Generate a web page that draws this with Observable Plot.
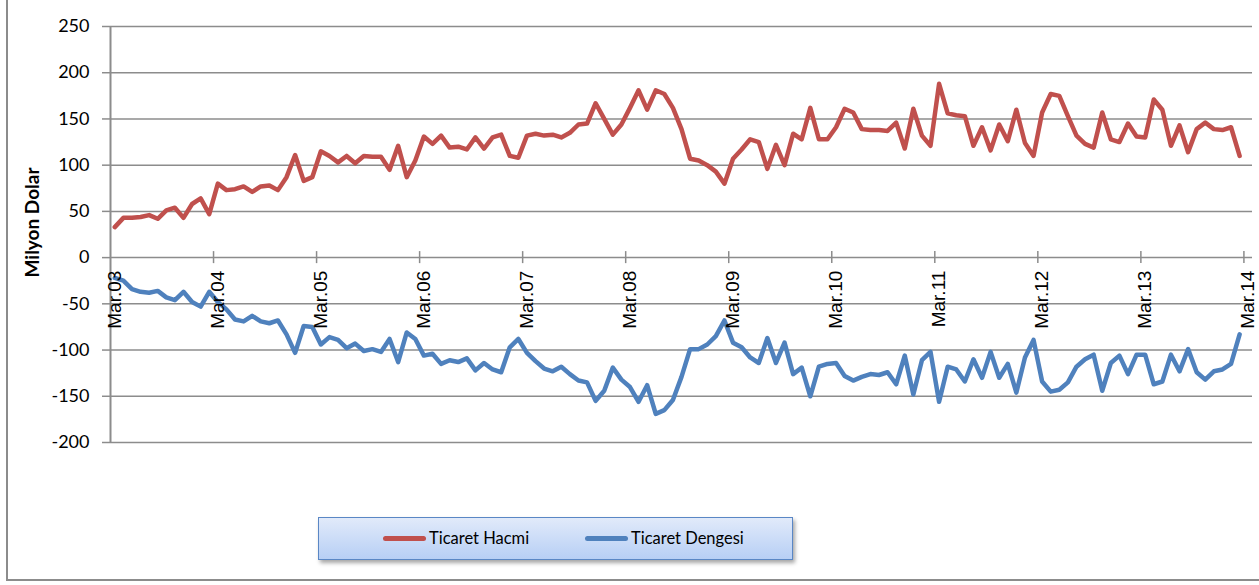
<!DOCTYPE html>
<html><head><meta charset="utf-8">
<script src="https://cdn.jsdelivr.net/npm/d3@7"></script>
<script src="https://cdn.jsdelivr.net/npm/@observablehq/plot@0.6"></script>
<style>
body{margin:0;background:#fff;}
#wrap{position:relative;width:1259px;height:585px;overflow:hidden;background:#fff;}
#chart{position:absolute;left:0;top:0;}
#frame{position:absolute;left:6px;top:-3px;width:1262px;height:584px;border-left:2px solid #8c8c8c;border-bottom:2px solid #8c8c8c;box-sizing:border-box;pointer-events:none;}
#legend{position:absolute;left:318px;top:517px;width:475px;height:43px;box-sizing:border-box;border:1.5px solid #5a87c5;background:linear-gradient(#e1eafa,#b7cff5);box-shadow:2px 3px 4px rgba(0,0,0,0.35);font-family:Lato,"Liberation Sans",sans-serif;font-size:16.5px;color:#000;}
#legend .sw{position:absolute;top:18px;width:43px;height:5px;border-radius:3px;}
#legend .lt{position:absolute;top:10px;line-height:20px;white-space:nowrap;}
</style></head><body>
<div id="wrap">
<div id="chart"></div>
<div id="frame"></div>
<div id="legend"></div>
</div>
<script>
// category tick labels (one every 12 monthly categories)
const tickLabels = ["Mar.03","Mar.04","Mar.05","Mar.06","Mar.07","Mar.08","Mar.09","Mar.10","Mar.11","Mar.12","Mar.13","Mar.14"];
const seriesNames = ["Ticaret Hacmi","Ticaret Dengesi"];
const seriesColors = ["#c0504d","#4f81bd"];
const yTicks = [-200,-150,-100,-50,0,50,100,150,200,250];
// monthly values, Mar.03 .. Feb.14
const hacmi = [33,43,43,44,46,42,51,54,43,58,64,47,
 80,73,74,77,71,77,78,73,87,111,83,87,
 115,110,103,110,102,110,109,109,95,121,87,105,
 131,123,132,119,120,117,130,118,130,133,110,108,
 132,134,132,133,130,135,144,145,167,150,133,144,
 162,181,160,181,177,162,139,107,105,100,93,80,
 107,117,128,125,96,122,100,134,128,162,128,128,
 141,161,157,139,138,138,137,146,118,161,132,121,
 188,156,154,153,121,141,116,144,126,160,124,110,
 157,177,175,153,132,123,119,157,128,125,145,131,
 130,171,160,121,143,114,139,146,139,138,141,110];
const dengesi = [-22,-25,-34,-37,-38,-36,-43,-46,-37,-48,-53,-37,
 -48,-56,-67,-69,-63,-69,-71,-68,-83,-103,-74,-75,
 -94,-86,-89,-98,-93,-101,-99,-102,-88,-113,-81,-88,
 -106,-104,-115,-111,-113,-109,-122,-114,-121,-124,-97,-88,
 -103,-112,-120,-123,-118,-126,-133,-135,-155,-144,-119,-132,
 -140,-156,-138,-169,-165,-154,-129,-99,-99,-94,-85,-68,
 -92,-97,-108,-114,-87,-114,-92,-126,-119,-150,-118,-115,
 -114,-128,-133,-129,-126,-127,-124,-137,-106,-148,-111,-102,
 -156,-118,-121,-134,-110,-130,-102,-130,-115,-146,-108,-89,
 -134,-145,-143,-135,-118,-110,-105,-144,-114,-106,-126,-105,
 -105,-137,-134,-105,-123,-99,-124,-132,-123,-121,-115,-83];

const nCat = tickLabels.length * 12 - 11; // 133 categories Mar.03..Mar.14
const idx = hacmi.map((_, i) => i);
const labelPos = tickLabels.map((_, k) => k * 12);
const tickPos = tickLabels.slice(1).map((_, k) => (k + 1) * 12 - 0.5);
const grid = "#8c8c8c";

const chart = Plot.plot({
  width: 1259, height: 505,
  marginLeft: 110, marginRight: 7, marginTop: 26, marginBottom: 63,
  x: {domain: [-0.5, nCat - 0.5], axis: null},
  y: {domain: [-200, 250], axis: null},
  style: {fontFamily: "Lato, 'Liberation Sans', sans-serif", background: "transparent", overflow: "visible"},
  marks: [
    Plot.gridY(yTicks, {stroke: grid, strokeOpacity: 1, strokeWidth: 1.5}),
    Plot.ruleX([-0.5], {stroke: grid, strokeWidth: 2}),
    Plot.axisY(yTicks, {tickSize: 8, tickPadding: 13, fontSize: 18, stroke: grid, strokeWidth: 1.5, fill: "#000", tickFormat: d => String(d)}),
    Plot.ruleX(tickPos, {y1: -6.5, y2: 6.5, stroke: grid, strokeWidth: 1.5}),
    Plot.line(idx, {x: i => i, y: i => hacmi[i], stroke: seriesColors[0], strokeWidth: 4.5, strokeLinejoin: "round", strokeLinecap: "round"}),
    Plot.line(idx, {x: i => i, y: i => dengesi[i], stroke: seriesColors[1], strokeWidth: 4.5, strokeLinejoin: "round", strokeLinecap: "round"}),
    Plot.text(tickLabels, {x: (d, k) => labelPos[k], y: 0, text: d => d, rotate: -90, textAnchor: "end", dy: 13, fontSize: 19, fontFamily: "'Liberation Sans', Arial, sans-serif", fill: "#000"}),
    Plot.text(["Milyon Dolar"], {frameAnchor: "left", dx: -78, dy: 43, rotate: -90, fontWeight: "bold", fontSize: 19, fill: "#000"})
  ]
});
document.getElementById("chart").appendChild(chart);

const leg = document.getElementById("legend");
const swLeft = [64, 266], txtLeft = [110, 312];
seriesNames.forEach((name, k) => {
  const sw = document.createElement("span");
  sw.className = "sw"; sw.style.left = swLeft[k] + "px"; sw.style.background = seriesColors[k];
  const t = document.createElement("span");
  t.className = "lt"; t.style.left = txtLeft[k] + "px"; t.textContent = name;
  leg.appendChild(sw); leg.appendChild(t);
});
</script>
</body></html>
